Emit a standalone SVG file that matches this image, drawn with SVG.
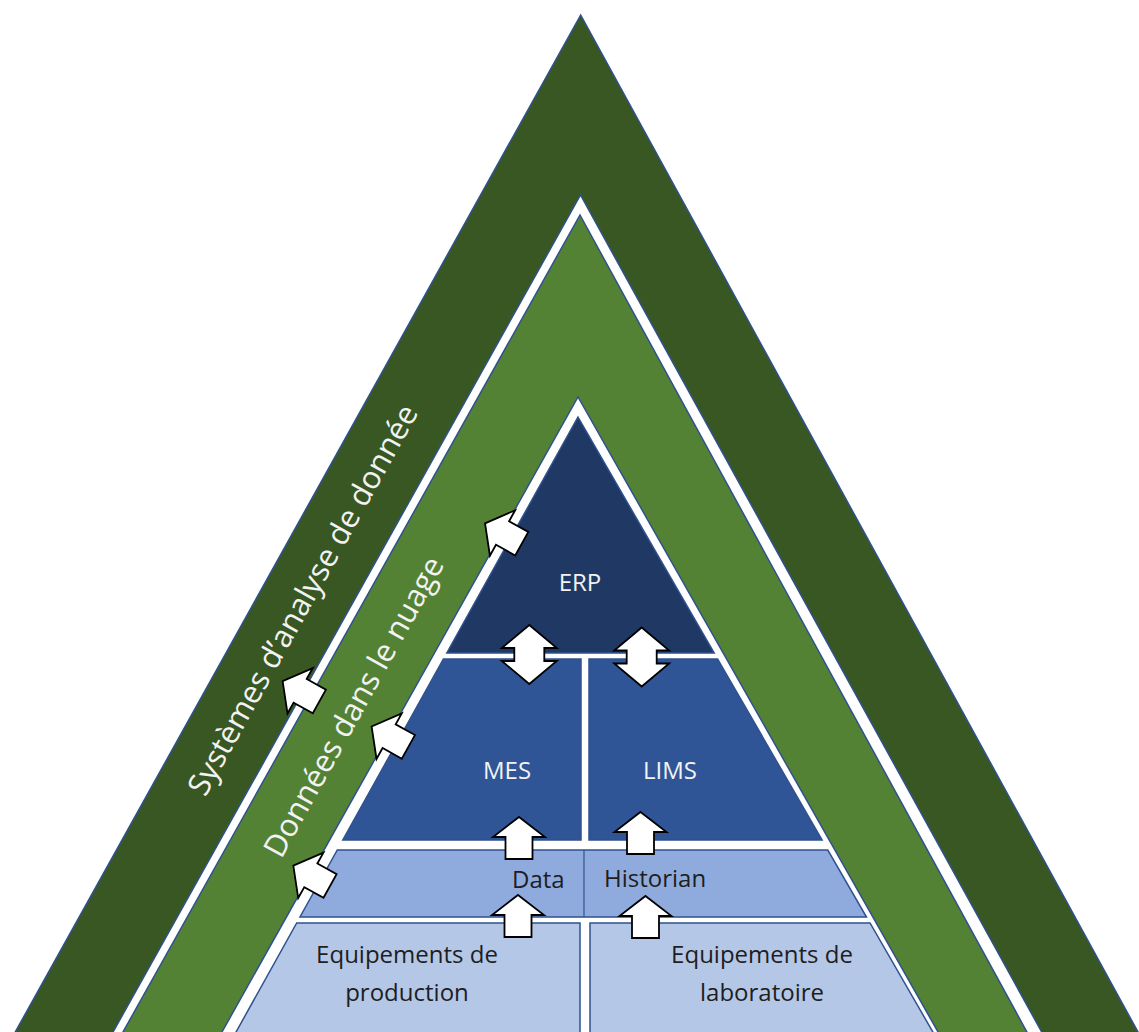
<svg xmlns="http://www.w3.org/2000/svg" width="1139" height="1032" viewBox="0 0 1139 1032">
<style>
.ol{stroke:#2f528f;stroke-width:1.5;stroke-linejoin:miter}
.wt{fill:#f2f2f2;font-family:"Open Sans","Noto Sans",sans-serif}
.dk{fill:#1e1e1e;font-family:"Open Sans","Noto Sans",sans-serif;font-size:24px}
.arr{fill:#ffffff;stroke:#000000;stroke-width:1.8;stroke-linejoin:miter}
</style>
<defs>
<path id="aUp" d="M0,-21 L26,-1 L13.5,-1 L13.5,21 L-13.5,21 L-13.5,-1 L-26,-1 Z"/>
<path id="aUD" d="M0,-29.5 L27.5,-6.5 L15,-6.5 L15,6.5 L27.5,6.5 L0,29.5 L-27.5,6.5 L-15,6.5 L-15,-6.5 L-27.5,-6.5 Z"/>
</defs>
<rect width="1139" height="1032" fill="#ffffff"/>
<g id="analyse-systems">
<polygon class="ol" fill="#385723" points="580.7,15 1142.4,1040 10.8,1040"/>
<polygon class="ol" fill="#ffffff" points="580.5,195 1046.1,1040 108.6,1040"/>
<text class="wt" font-size="31" text-anchor="middle" transform="translate(312,605) rotate(-61)">Systèmes d’analyse de donnée</text>
</g>
<g id="cloud-data">
<polygon class="ol" fill="#548235" points="580,215 1031.3,1040 118.5,1040"/>
<polygon class="ol" fill="#ffffff" points="578,397 942.6,1040 217.5,1040"/>
<text class="wt" font-size="31" text-anchor="middle" transform="translate(363,712) rotate(-61)">Données dans le nuage</text>
</g>
<g id="erp">
<polygon class="ol" fill="#203864" points="578,417 714.2,653 446.8,653"/>
<text class="wt" font-size="24" text-anchor="middle" x="580" y="591">ERP</text>
</g>
<g id="mes">
<polygon class="ol" fill="#2f5597" points="443.4,659 581,659 581,840 342.8,840"/>
<text class="wt" font-size="24" text-anchor="middle" x="507" y="779">MES</text>
</g>
<g id="lims">
<polygon class="ol" fill="#2f5597" points="589,659 717.6,659 822.1,840 589,840"/>
<text class="wt" font-size="24" text-anchor="middle" x="670" y="779">LIMS</text>
</g>
<g id="data-historian">
<polygon class="ol" fill="#8faadc" points="337.3,850 827.8,850 866.5,917 300,917"/>
<line x1="584" y1="850" x2="584" y2="917" stroke="#2f528f" stroke-width="1.2"/>
<text class="dk" x="512" y="888">Data</text>
<text class="dk" x="604" y="887">Historian</text>
</g>
<g id="equipements-production">
<polygon class="ol" fill="#b4c7e7" points="296.7,923 580,923 580,1040 231.6,1040"/>
<text class="dk" text-anchor="middle" x="407" y="963">Equipements de</text>
<text class="dk" text-anchor="middle" x="407" y="1001">production</text>
</g>
<g id="equipements-laboratoire">
<polygon class="ol" fill="#b4c7e7" points="590,923 870,923 937.5,1040 590,1040"/>
<text class="dk" text-anchor="middle" x="762" y="963">Equipements de</text>
<text class="dk" text-anchor="middle" x="762" y="1001">laboratoire</text>
</g>
<g id="connectors">
<use href="#aUD" class="arr" transform="translate(529.3,654.5)"/>
<use href="#aUD" class="arr" transform="translate(641.7,657)"/>
<use href="#aUp" class="arr" transform="translate(519,838)"/>
<use href="#aUp" class="arr" transform="translate(518,916)"/>
<use href="#aUp" class="arr" transform="translate(640.5,833)"/>
<use href="#aUp" class="arr" transform="translate(645.5,917)"/>
<use href="#aUp" class="arr" transform="translate(503.4,533.5) rotate(-61)"/>
<use href="#aUp" class="arr" transform="translate(390,736.7) rotate(-61)"/>
<use href="#aUp" class="arr" transform="translate(311.7,875.8) rotate(-61)"/>
<use href="#aUp" class="arr" transform="translate(301,691.3) rotate(-61)"/>
</g>
</svg>
